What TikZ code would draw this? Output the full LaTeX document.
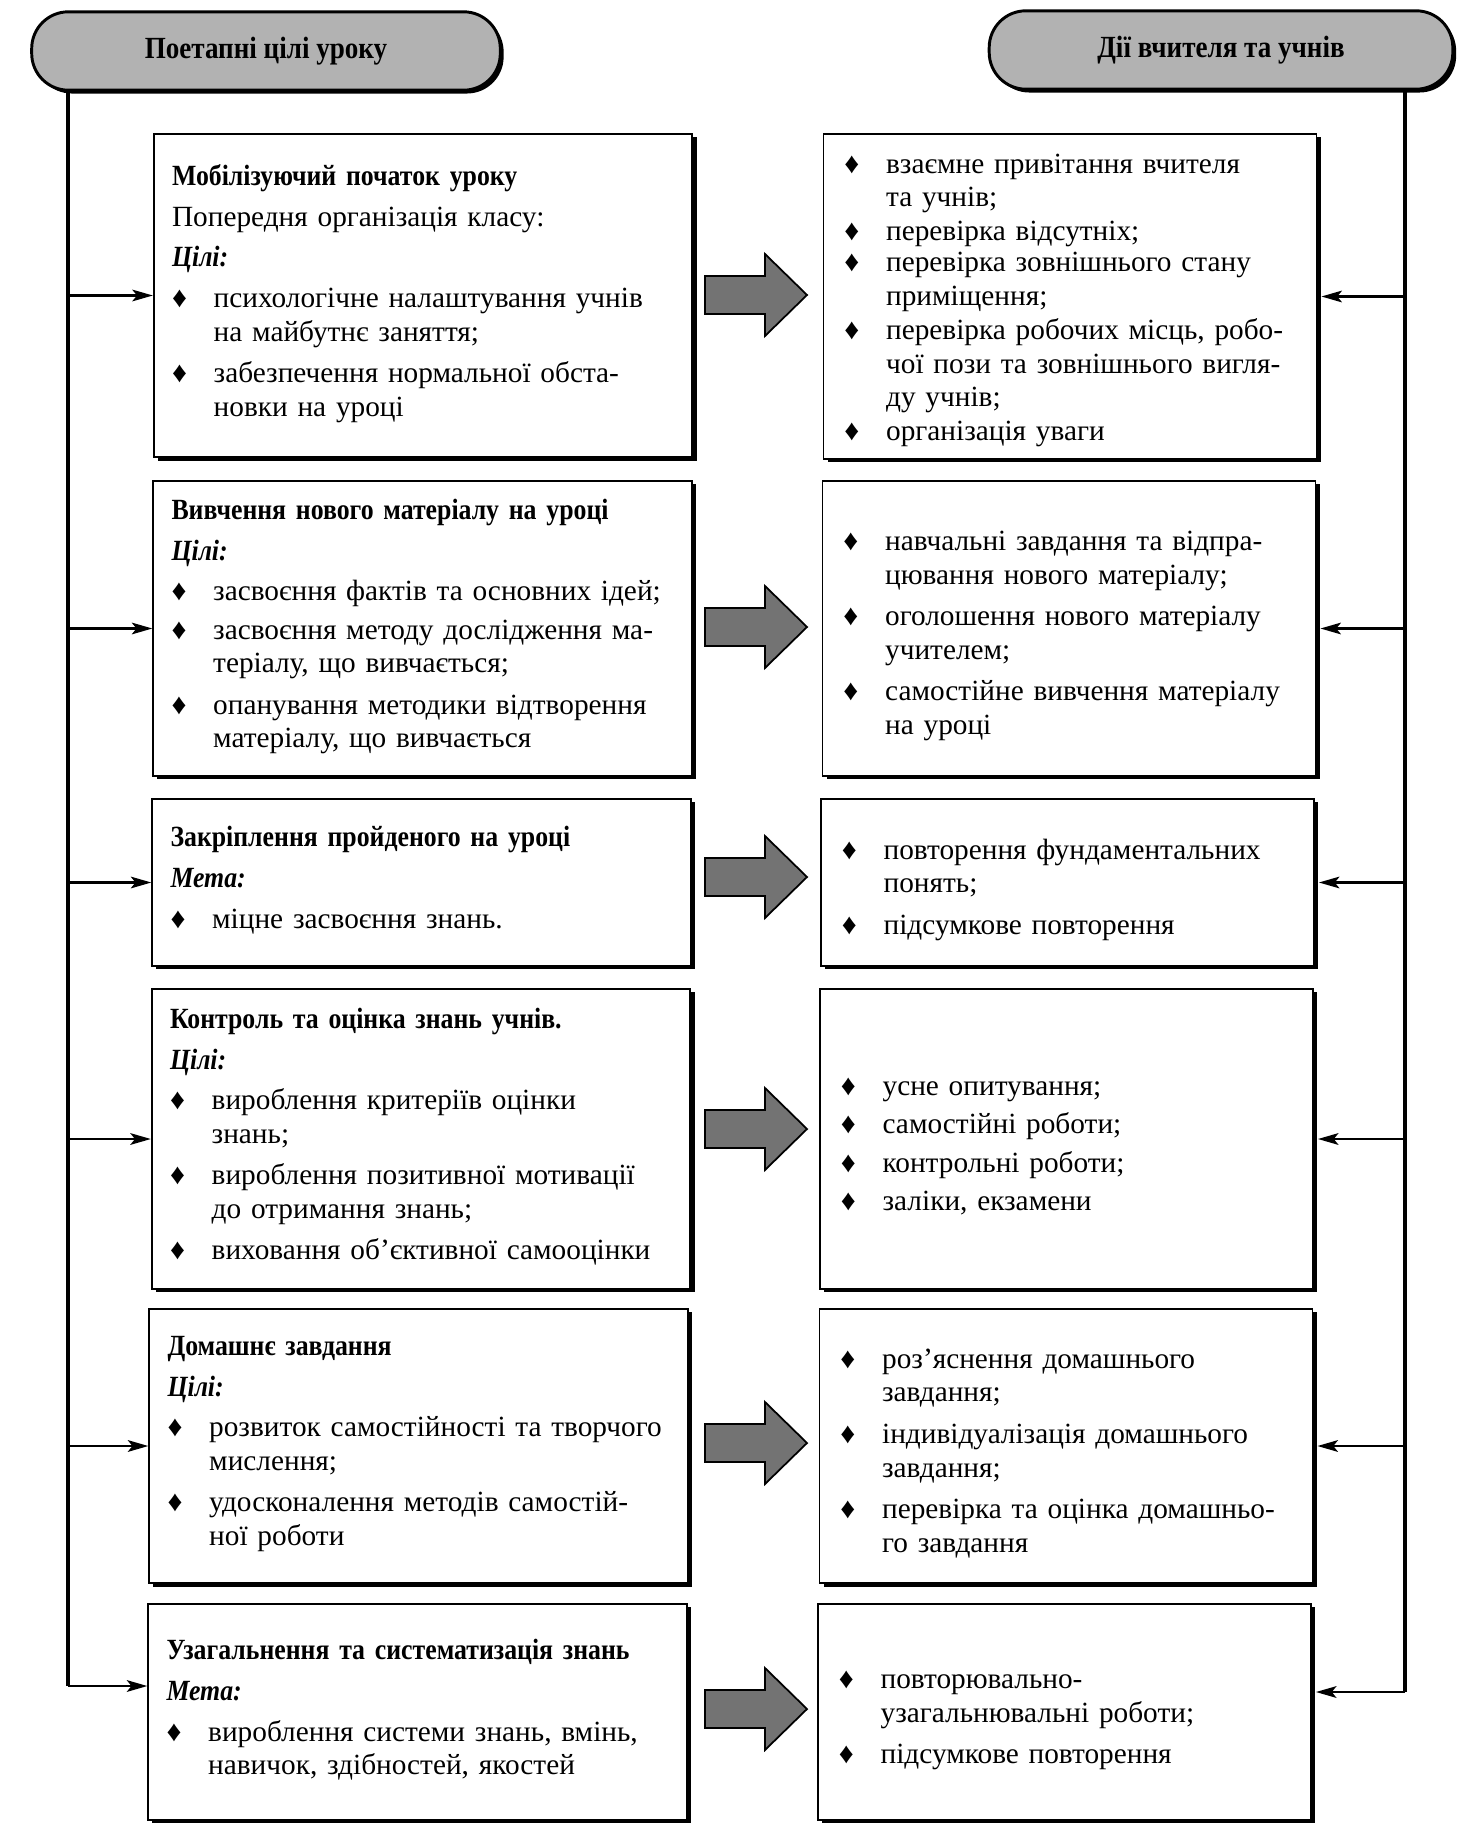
\documentclass[tikz,border=0pt]{standalone}
\usepackage{fontspec}
\setmainfont{Liberation Serif}
\newfontfamily\titlefont[FakeStretch=0.88]{Liberation Serif}
\usetikzlibrary{arrows.meta,shadows}

\colorlet{pillgray}{black!30}
\colorlet{arrowgray}{black!55}

% one bullet item, lines split by \\
\newcommand{\itm}[1]{\par\makebox[0.5cm][l]{♦}\begin{tabular}[t]{@{}l@{}}#1\end{tabular}\par}
\newcommand{\stagetitle}[1]{{\titlefont\bfseries #1}\par\vspace{0.8pt}}
\newcommand{\aim}[1]{{\titlefont\bfseries\itshape #1}\par\vspace{0.8pt}}

\tikzset{
  pill/.style={draw, line width=1pt, fill=pillgray, rounded corners=0.44cm,
    minimum width=5.62cm, minimum height=0.94cm,
    font=\fontsize{10.5}{12}\selectfont\titlefont\bfseries,
    drop shadow={fill=black, opacity=1, shadow xshift=0.04cm, shadow yshift=-0.04cm}},
  stagebox/.style={draw, line width=0.6pt, fill=white, inner xsep=0.22cm, inner ysep=0pt,
    minimum width=6.46cm, text width=6.02cm, align=left,
    font=\fontsize{10}{11.5}\selectfont,
    execute at begin node={\setlength{\parindent}{0pt}\setlength{\parskip}{1.6pt}},
    drop shadow={fill=black, opacity=1, shadow xshift=0.05cm, shadow yshift=-0.04cm}},
  actbox/.style={stagebox, inner xsep=0.25cm, minimum width=5.91cm, text width=5.41cm},
  tight/.style={execute at begin node={\setlength{\parindent}{0pt}\setlength{\parskip}{-0.9pt}}},
  trunk/.style={line width=1.2pt},
  branch/.style={line width=0.7pt, -{Stealth[length=7pt,width=4pt,inset=1.6pt]}},
  bigarrow/.style={draw=black, line width=0.6pt, fill=arrowgray}
}

\begin{document}
\begin{tikzpicture}[x=0.012cm,y=-0.012cm]
  \useasboundingbox (0,0) rectangle (1469,1829);

  % headers
  \node[pill] (hdrL) at (266,51) {Поетапні цілі уроку};
  \node[pill, minimum width=5.56cm] (hdrR) at (1221,50) {Дії вчителя та учнів};

  % stages of the lesson
  \node[stagebox, minimum height=3.88cm] (l1) at (423,295.5) {
    \stagetitle{Мобілізуючий початок уроку}
    Попередня організація класу:\par\vspace{0.8pt}
    \aim{Цілі:}
    \itm{психологічне налаштування учнів\\на майбутнє заняття;}
    \itm{забезпечення нормальної обста-\\новки на уроці}};
  \node[stagebox, minimum height=3.54cm] (l2) at (422.5,628.5) {
    \stagetitle{Вивчення нового матеріалу на уроці}
    \aim{Цілі:}
    \itm{засвоєння фактів та основних ідей;}
    \itm{засвоєння методу дослідження ма-\\теріалу, що вивчається;}
    \itm{опанування методики відтворення\\матеріалу, що вивчається}};
  \node[stagebox, minimum height=2.00cm] (l3) at (421.5,882.5) {
    \stagetitle{Закріплення пройденого на уроці}
    \aim{Мета:}
    \itm{міцне засвоєння знань.}};
  \node[stagebox, minimum height=3.60cm] (l4) at (421,1139) {
    \stagetitle{Контроль та оцінка знань учнів.}
    \aim{Цілі:}
    \itm{вироблення критеріїв оцінки\\знань;}
    \itm{вироблення позитивної мотивації\\до отримання знань;}
    \itm{виховання об’єктивної самооцінки}};
  \node[stagebox, minimum height=3.29cm] (l5) at (418.5,1446) {
    \stagetitle{Домашнє завдання}
    \aim{Цілі:}
    \itm{розвиток самостійності та творчого\\мислення;}
    \itm{удосконалення методів самостій-\\ної роботи}};
  \node[stagebox, minimum height=2.59cm] (l6) at (417.5,1712) {
    \stagetitle{Узагальнення та систематизація знань}
    \aim{Мета:}
    \itm{вироблення системи знань, вмінь,\\навичок, здібностей, якостей}};

  % what teacher and pupils do
  \node[actbox, tight, minimum height=3.90cm] (r1) at (1070,296.5) {
    \itm{взаємне привітання вчителя\\та учнів;}
    \itm{перевірка відсутніх;}
    \itm{перевірка зовнішнього стану\\приміщення;}
    \itm{перевірка робочих місць, робо-\\чої пози та зовнішнього вигля-\\ду учнів;}
    \itm{організація уваги}};
  \node[actbox, minimum height=3.54cm] (r2) at (1069,628.5) {
    \itm{навчальні завдання та відпра-\\цювання нового матеріалу;}
    \itm{оголошення нового матеріалу\\учителем;}
    \itm{самостійне вивчення матеріалу\\на уроці}};
  \node[actbox, minimum height=2.00cm] (r3) at (1067.5,882.5) {
    \itm{повторення фундаментальних\\понять;}
    \itm{підсумкове повторення}};
  \node[actbox, minimum height=3.60cm] (r4) at (1066.5,1139) {
    \itm{усне опитування;}
    \itm{самостійні роботи;}
    \itm{контрольні роботи;}
    \itm{заліки, екзамени}};
  \node[actbox, minimum height=3.29cm] (r5) at (1066,1446) {
    \itm{роз’яснення домашнього\\завдання;}
    \itm{індивідуалізація домашнього\\завдання;}
    \itm{перевірка та оцінка домашньо-\\го завдання}};
  \node[actbox, minimum height=2.59cm] (r6) at (1064.5,1712) {
    \itm{повторювально-\\узагальнювальні роботи;}
    \itm{підсумкове повторення}};

  % big arrows between the columns
  \foreach \y in {295,627,877,1129,1443,1709}
    \draw[bigarrow] (705,{\y-19}) -- (765,{\y-19}) -- (765,{\y-41}) -- (807,\y)
      -- (765,{\y+41}) -- (765,{\y+19}) -- (705,{\y+19}) -- cycle;

  % left trunk
  \coordinate (tL) at (68,1686);
  \draw[trunk] (hdrL.south -| tL) -- (tL);
  \draw[branch] (tL) -- (tL -| l6.west);
  \foreach \b in {1,...,5}
    \draw[branch] (tL |- l\b.west) -- (l\b.west);

  % right trunk
  \coordinate (tR) at (1405,1692);
  \draw[trunk] (hdrR.south -| tR) -- (tR);
  \draw[branch] (tR) -- ([xshift=0.05cm]tR -| r6.east);
  \foreach \b in {1,...,5}
    \draw[branch] (tR |- r\b.east) -- ([xshift=0.05cm]r\b.east);
\end{tikzpicture}
\end{document}
